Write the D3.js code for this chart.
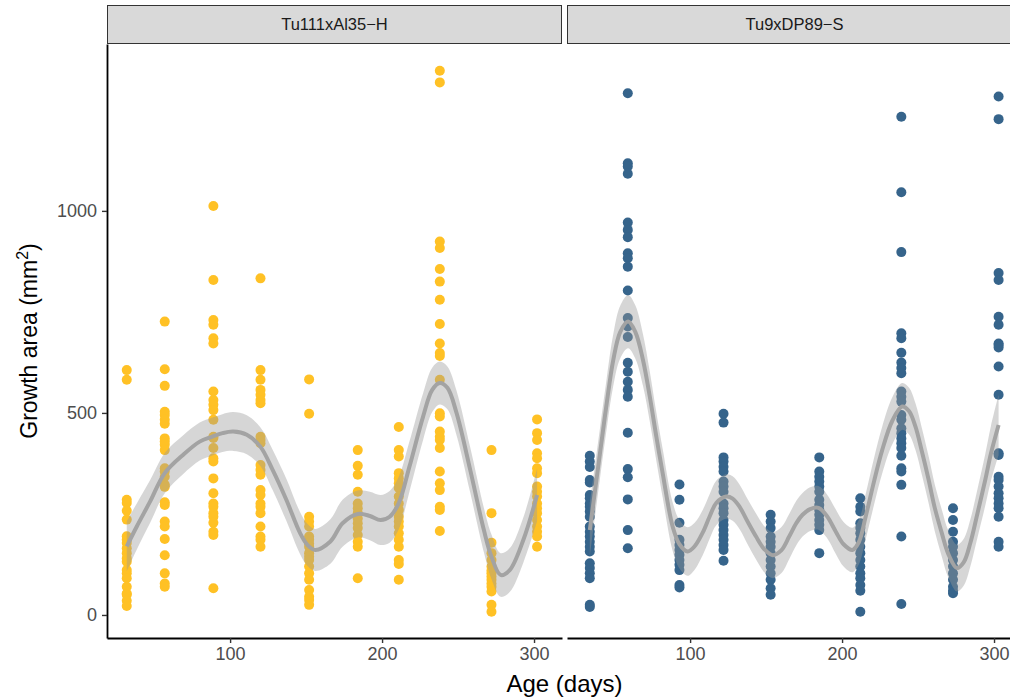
<!DOCTYPE html>
<html>
<head>
<meta charset="utf-8">
<script src="https://cdn.jsdelivr.net/npm/d3@7"></script>
<style>
  html, body { margin: 0; padding: 0; background: #fff; overflow: hidden; }
  svg { display: block; font-family: "Liberation Sans", Arial, Helvetica, sans-serif; }
</style>
</head>
<body>
<svg id="chart" width="1010" height="698"></svg>
<script>
// ---- data ----
const panelNames = ["Tu111xAl35\u2212H", "Tu9xDP89\u2212S"];
const pointColors = ["#FFC125", "#36648B"];
const xTicks = [100, 200, 300];
const yTicks = [0, 500, 1000];

// Tu111xAl35-H: sampling ages (days) and growth areas (mm^2) at each age
const agesH = [32, 57, 89, 120, 152, 184, 211, 238, 272, 302];
const areasH = [
  [606, 582, 285, 277, 258, 236, 195, 186, 178, 165, 153, 140, 132, 111, 103, 91, 70, 53, 50, 35, 22],
  [726, 608, 567, 503, 495, 483, 473, 437, 429, 421, 408, 363, 355, 342, 322, 317, 279, 272, 231, 219, 188, 148, 103, 78, 70],
  [1012, 829, 730, 718, 685, 672, 553, 532, 520, 507, 483, 441, 438, 413, 388, 380, 338, 301, 276, 268, 252, 243, 228, 206, 198, 66],
  [833, 606, 582, 557, 545, 532, 524, 441, 433, 425, 371, 359, 347, 309, 297, 276, 268, 252, 219, 194, 186, 169],
  [583, 498, 243, 231, 219, 194, 186, 177, 169, 153, 144, 136, 120, 103, 87, 62, 45, 37, 25],
  [408, 369, 347, 305, 276, 264, 252, 239, 227, 215, 198, 181, 169, 91],
  [465, 408, 392, 351, 338, 326, 314, 293, 276, 260, 243, 231, 219, 202, 186, 169, 136, 126, 87],
  [1347, 1318, 924, 908, 856, 825, 780, 720, 672, 648, 641, 582, 499, 491, 454, 441, 433, 413, 355, 326, 309, 268, 260, 208],
  [408, 252, 179, 153, 136, 120, 110, 103, 95, 87, 78, 70, 58, 25, 8],
  [484, 450, 433, 400, 388, 363, 351, 318, 305, 293, 276, 264, 252, 235, 219, 206, 194, 169]
];

// Tu9xDP89-S
const agesS = [34, 59, 93, 122, 153, 185, 212, 239, 273, 303];
const areasS = [
  [394, 380, 366, 334, 328, 297, 289, 276, 268, 256, 243, 219, 206, 194, 181, 169, 157, 128, 116, 103, 91, 25, 20],
  [1291, 1118, 1110, 1092, 971, 953, 935, 895, 883, 862, 803, 735, 714, 688, 624, 602, 577, 557, 540, 451, 361, 341, 286, 210, 165],
  [323, 285, 228, 186, 173, 161, 149, 136, 124, 111, 74, 68],
  [498, 476, 390, 380, 367, 355, 330, 318, 305, 276, 264, 252, 235, 223, 210, 198, 186, 173, 161, 134],
  [248, 231, 215, 194, 181, 169, 153, 136, 120, 103, 87, 66, 50],
  [390, 355, 342, 330, 318, 305, 285, 272, 260, 248, 235, 223, 210, 153],
  [289, 268, 256, 227, 215, 202, 186, 169, 153, 136, 120, 103, 91, 74, 60, 8],
  [1233, 1046, 898, 697, 685, 649, 625, 611, 598, 553, 540, 528, 495, 483, 462, 450, 437, 425, 413, 394, 363, 355, 322, 194, 27],
  [264, 235, 206, 181, 169, 153, 136, 120, 103, 87, 70, 60, 54],
  [1283, 1227, 846, 829, 738, 718, 672, 668, 662, 615, 545, 400, 396, 342, 334, 318, 301, 289, 276, 264, 243, 181, 169]
];

// Smoothed trend (fit and standard-error half width) for each cross
const fitDaysH = [32, 38.6, 47.4, 57, 69, 80, 88, 95, 102, 111, 120, 128, 137, 146, 151, 156, 166, 174, 184, 192, 199, 205, 211, 218, 227, 233, 238, 243, 249, 258, 267, 272, 278, 284, 293, 302];
const fitH = [170, 219, 281, 351, 396, 429, 441, 450, 454, 446, 416, 359, 285, 203, 173, 161, 182, 227, 250, 245, 235, 243, 277, 367, 491, 557, 574, 562, 500, 359, 210, 144, 99, 111, 186, 297];
const seH = [62, 57, 53, 50, 48, 47, 47, 47, 48, 48, 48, 50, 52, 52, 52, 52, 55, 58, 58, 60, 62, 64, 65, 62, 58, 55, 53, 53, 55, 56, 55, 55, 54, 54, 56, 65];

const fitDaysS = [34, 40.7, 45, 49.4, 54, 59.2, 64, 69, 73.5, 77.8, 82, 88.5, 93, 98.4, 103, 108.2, 113, 117.2, 123.7, 128, 132.5, 138, 143.4, 149, 154.3, 160, 165.2, 170, 174, 179, 184.5, 190, 195.9, 201, 206.8, 211, 215.5, 221, 226.4, 233, 239.5, 244, 248.3, 252.5, 257, 261, 265.6, 270, 275.6, 280, 284.4, 289, 294.2, 298, 303];
const fitS = [210, 400, 520, 630, 700, 726, 700, 631, 540, 441, 350, 219, 175, 157, 170, 203, 245, 277, 293, 288, 268, 230, 194, 162, 148, 160, 194, 228, 248, 262, 265, 245, 206, 175, 161, 180, 243, 330, 408, 480, 516, 505, 466, 405, 334, 265, 203, 150, 116, 130, 178, 250, 334, 400, 470];
const seS = [65, 62, 62, 64, 65, 66, 66, 64, 62, 60, 60, 60, 60, 60, 58, 56, 55, 55, 55, 55, 55, 56, 57, 57, 57, 57, 56, 55, 54, 54, 54, 54, 55, 55, 55, 55, 56, 58, 58, 58, 58, 58, 58, 58, 58, 58, 58, 58, 58, 58, 58, 60, 64, 68, 75];

// ---- layout ----
const svg = d3.select("#chart");
const panelW = 455;
const panelTop = 44, panelBottom = 638;
const stripTop = 5;
const panelLefts = [107, 567];
const xDomain = [19, 318.4];

const y = d3.scaleLinear().domain([-57, 1413]).range([panelBottom, panelTop]);

const panels = [
  { name: panelNames[0], color: pointColors[0], ages: agesH, areas: areasH, fd: fitDaysH, fit: fitH, se: seH },
  { name: panelNames[1], color: pointColors[1], ages: agesS, areas: areasS, fd: fitDaysS, fit: fitS, se: seS }
];

panels.forEach((p, i) => {
  const left = panelLefts[i];
  const x = d3.scaleLinear().domain(xDomain).range([left, left + panelW]);
  const g = svg.append("g");

  // points
  const pts = [];
  p.ages.forEach((a, j) => p.areas[j].forEach(v => pts.push({ age: a, area: v })));
  g.append("g").selectAll("circle").data(pts).join("circle")
    .attr("cx", d => x(d.age))
    .attr("cy", d => y(d.area))
    .attr("r", 5)
    .attr("fill", p.color);

  // smooth trend with confidence band
  const trend = p.fd.map((d, j) => ({ day: d, fit: p.fit[j], lo: p.fit[j] - p.se[j], hi: p.fit[j] + p.se[j] }));
  const curve = d3.curveCatmullRom.alpha(0.5);
  g.append("path").datum(trend)
    .attr("d", d3.area().curve(curve).x(d => x(d.day)).y0(d => y(d.lo)).y1(d => y(d.hi)))
    .attr("fill", "#999999").attr("fill-opacity", 0.4);
  g.append("path").datum(trend)
    .attr("d", d3.line().curve(curve).x(d => x(d.day)).y(d => y(d.fit)))
    .attr("fill", "none").attr("stroke", "#A3A3A3").attr("stroke-width", 4);

  // x axis
  const xa = svg.append("g").attr("transform", `translate(0,${panelBottom})`)
    .call(d3.axisBottom(x).tickValues(xTicks).tickFormat(d3.format("d")).tickSize(5).tickSizeOuter(0).tickPadding(4));
  xa.select(".domain").attr("stroke", "#000").attr("stroke-width", 1.8);
  xa.selectAll(".tick line").attr("stroke", "#333").attr("stroke-width", 1.4);
  xa.selectAll(".tick text").attr("fill", "#4D4D4D").attr("font-size", 18)
    .attr("font-family", "Liberation Sans, Arial, sans-serif");

  // strip
  svg.append("rect")
    .attr("x", left + 0.5).attr("y", stripTop + 0.5)
    .attr("width", panelW - 1).attr("height", panelTop - stripTop - 1)
    .attr("fill", "#D9D9D9").attr("stroke", "#333").attr("stroke-width", 1);
  svg.append("text")
    .attr("x", left + panelW / 2).attr("y", (stripTop + panelTop) / 2)
    .attr("dy", "0.36em").attr("text-anchor", "middle")
    .attr("font-size", 16.5).attr("fill", "#1A1A1A")
    .text(p.name);
});

// y axis (first panel only)
const ya = svg.append("g").attr("transform", `translate(${panelLefts[0]},0)`)
  .call(d3.axisLeft(y).tickValues(yTicks).tickFormat(d3.format("d")).tickSize(5).tickSizeOuter(0).tickPadding(5));
ya.select(".domain").attr("stroke", "#000").attr("stroke-width", 1.8);
ya.selectAll(".tick line").attr("stroke", "#333").attr("stroke-width", 1.4);
ya.selectAll(".tick text").attr("fill", "#4D4D4D").attr("font-size", 18)
  .attr("font-family", "Liberation Sans, Arial, sans-serif");

// axis titles
svg.append("text")
  .attr("x", (panelLefts[0] + panelLefts[1] + panelW) / 2).attr("y", 692)
  .attr("text-anchor", "middle").attr("font-size", 24).attr("fill", "#000")
  .text("Age (days)");

const yt = svg.append("text")
  .attr("transform", `translate(37,${(panelTop + panelBottom) / 2}) rotate(-90)`)
  .attr("text-anchor", "middle").attr("font-size", 23).attr("fill", "#000");
yt.append("tspan").text("Growth area (mm");
yt.append("tspan").attr("font-size", 16).attr("dy", "-0.55em").text("2");
yt.append("tspan").attr("dy", "0.38em").text(")");
</script>
</body>
</html>
